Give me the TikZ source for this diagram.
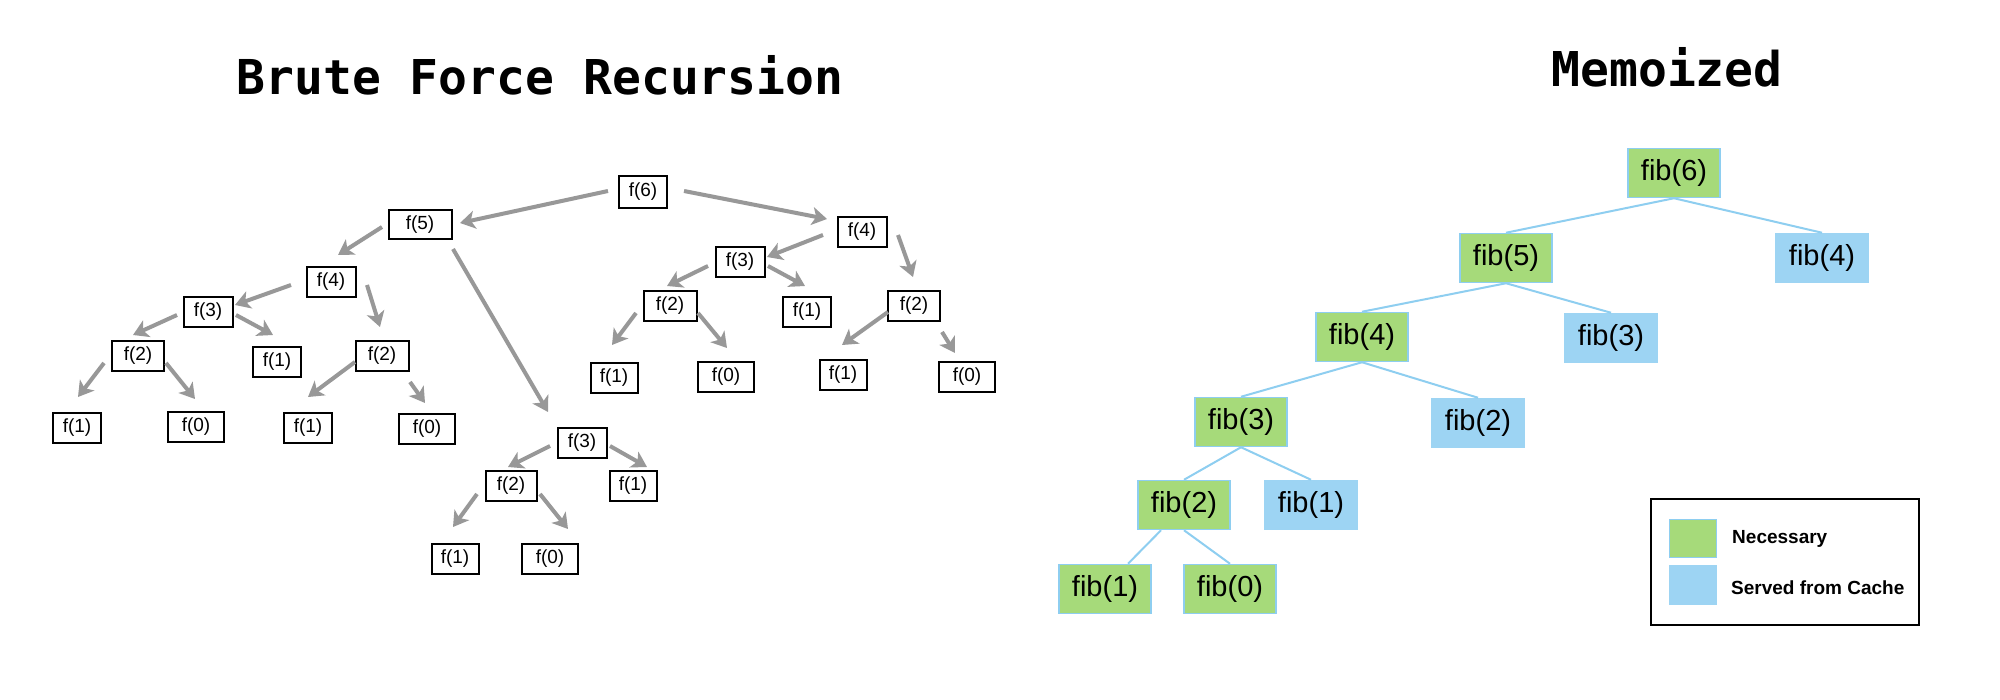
\documentclass[tikz,border=0pt]{standalone}
\usepackage{fontspec}
\setmainfont{Liberation Sans}
\newfontfamily\titlemono{DejaVu Sans Mono}
\usetikzlibrary{arrows.meta}
\definecolor{arrgray}{RGB}{152,152,152}
\definecolor{fibgreen}{RGB}{166,218,122}
\definecolor{fibblue}{RGB}{157,212,243}
\definecolor{edgeblue}{RGB}{142,206,240}
\begin{document}
\begin{tikzpicture}[x=1pt,y=-1pt,
  fb/.style={draw=black, line width=2pt, fill=white, minimum height=30pt, inner sep=0pt,
    font=\fontsize{19}{19}\selectfont},
  arr/.style={draw=arrgray, line width=4pt, -{Stealth[length=15pt,width=18pt,inset=4pt]}},
  gbox/.style={fill=fibgreen, draw=edgeblue, line width=1.5pt, minimum width=92pt, minimum height=49pt,
    inner sep=0pt, font=\fontsize{29}{29}\selectfont},
  cbox/.style={gbox, fill=fibblue, draw=fibblue},
  tline/.style={draw=edgeblue, line width=2pt},
  titletext/.style={font=\titlemono\bfseries\fontsize{48}{48}\selectfont, anchor=base, inner sep=0pt},
  legtext/.style={font=\bfseries\fontsize{19}{19}\selectfont, anchor=base west, inner sep=0pt}
]
\useasboundingbox (0,0) rectangle (2000,700);
\fill[white] (0,0) rectangle (2000,700);

% titles
\node[titletext] (t1) at (540,95) {Brute Force Recursion};
\node[titletext] (t2) at (1667,87) {Memoized};

% ---------- brute force tree ----------
\node[fb, minimum width=48pt, minimum height=32pt] (f6) at (643,192) {f(6)};
\node[fb, minimum width=63pt, minimum height=29pt] (f5) at (420,225) {f(5)};
\node[fb, minimum width=49pt] (f4r) at (862,232) {f(4)};
\node[fb, minimum width=49pt] (f4l) at (331,282) {f(4)};
\node[fb, minimum width=49pt] (f3l) at (208,312) {f(3)};
\node[fb, minimum width=49pt] (f3m) at (740,262) {f(3)};
\node[fb, minimum width=49pt] (f3b) at (582,443) {f(3)};
\node[fb, minimum width=52pt] (f2l) at (138,356) {f(2)};
\node[fb, minimum width=53pt] (f2a) at (382,356) {f(2)};
\node[fb, minimum width=53pt] (f2m) at (670,306) {f(2)};
\node[fb, minimum width=52pt] (f2r) at (914,306) {f(2)};
\node[fb, minimum width=51pt] (f2b) at (511,486) {f(2)};
\node[fb, minimum width=48pt] (f1a) at (277,362) {f(1)};
\node[fb, minimum width=48pt] (f1m) at (807,312) {f(1)};
\node[fb, minimum width=47pt] (f1b) at (633,486) {f(1)};
\node[fb, minimum width=48pt] (l1) at (77,428) {f(1)};
\node[fb, minimum width=56pt] (l2) at (196,427) {f(0)};
\node[fb, minimum width=48pt] (l3) at (308,428) {f(1)};
\node[fb, minimum width=56pt] (l4) at (427,429) {f(0)};
\node[fb, minimum width=47pt] (l5) at (614,378) {f(1)};
\node[fb, minimum width=56pt] (l6) at (726,377) {f(0)};
\node[fb, minimum width=47pt] (l7) at (843,375) {f(1)};
\node[fb, minimum width=56pt] (l8) at (967,377) {f(0)};
\node[fb, minimum width=47pt] (l9) at (455,559) {f(1)};
\node[fb, minimum width=56pt] (l10) at (550,559) {f(0)};

\draw[arr] ([shift={(-35,-1)}]f6.center) -- ([shift={(40,-2)}]f5.center);
\draw[arr] ([shift={(41,-1)}]f6.center) -- ([shift={(-35,-13)}]f4r.center);
\draw[arr] ([shift={(-38,2)}]f5.center) -- ([shift={(7,-27)}]f4l.center);
\draw[arr] ([shift={(33,24)}]f5.center) -- ([shift={(-34,-31)}]f3b.center);
\draw[arr] ([shift={(-40,3)}]f4l.center) -- ([shift={(27,-7)}]f3l.center);
\draw[arr] ([shift={(36,3)}]f4l.center) -- ([shift={(-2,-29)}]f2a.center);
\draw[arr] ([shift={(-31,3)}]f3l.center) -- ([shift={(-5,-21)}]f2l.center);
\draw[arr] ([shift={(28,3)}]f3l.center) -- ([shift={(-4,-27)}]f1a.center);
\draw[arr] ([shift={(-34,7)}]f2l.center) -- ([shift={(1,-31)}]l1.center);
\draw[arr] ([shift={(28,7)}]f2l.center) -- ([shift={(-1,-28)}]l2.center);
\draw[arr] ([shift={(-27,6)}]f2a.center) -- ([shift={(0,-31)}]l3.center);
\draw[arr] ([shift={(28,26)}]f2a.center) -- ([shift={(-2,-26)}]l4.center);
\draw[arr] ([shift={(-39,3)}]f4r.center) -- ([shift={(27,-5)}]f3m.center);
\draw[arr] ([shift={(36,3)}]f4r.center) -- ([shift={(-1,-29)}]f2r.center);
\draw[arr] ([shift={(-32,4)}]f3m.center) -- ([shift={(-3,-20)}]f2m.center);
\draw[arr] ([shift={(28,4)}]f3m.center) -- ([shift={(-2,-26)}]f1m.center);
\draw[arr] ([shift={(-34,7)}]f2m.center) -- ([shift={(-2,-33)}]l5.center);
\draw[arr] ([shift={(28,7)}]f2m.center) -- ([shift={(1,-29)}]l6.center);
\draw[arr] ([shift={(-26,6)}]f2r.center) -- ([shift={(-1,-30)}]l7.center);
\draw[arr] ([shift={(28,26)}]f2r.center) -- ([shift={(-12,-24)}]l8.center);
\draw[arr] ([shift={(-32,3)}]f3b.center) -- ([shift={(-3,-19)}]f2b.center);
\draw[arr] ([shift={(28,3)}]f3b.center) -- ([shift={(14,-19)}]f1b.center);
\draw[arr] ([shift={(-34,8)}]f2b.center) -- ([shift={(-2,-32)}]l9.center);
\draw[arr] ([shift={(29,8)}]f2b.center) -- ([shift={(18,-30)}]l10.center);

% ---------- memoized tree ----------
\node[gbox] (g6) at (1674,173) {fib(6)};
\node[gbox] (g5) at (1506,258) {fib(5)};
\node[cbox] (c4) at (1822,258) {fib(4)};
\node[gbox] (g4) at (1362,337) {fib(4)};
\node[cbox] (c3) at (1611,338) {fib(3)};
\node[gbox] (g3) at (1241,422) {fib(3)};
\node[cbox] (c2) at (1478,423) {fib(2)};
\node[gbox] (g2) at (1184,505) {fib(2)};
\node[cbox] (c1) at (1311,505) {fib(1)};
\node[gbox] (g1) at (1105,589) {fib(1)};
\node[gbox] (g0) at (1230,589) {fib(0)};

\draw[tline] (g6.south) -- (g5.north);
\draw[tline] (g6.south) -- (c4.north);
\draw[tline] (g5.south) -- (g4.north);
\draw[tline] (g5.south) -- (c3.north);
\draw[tline] (g4.south) -- (g3.north);
\draw[tline] (g4.south) -- (c2.north);
\draw[tline] (g3.south) -- (g2.north);
\draw[tline] (g3.south) -- (c1.north);
\draw[tline] ([xshift=-23pt]g2.south) -- ([xshift=23pt]g1.north);
\draw[tline] (g2.south) -- (g0.north);

% legend
\node[draw=black, line width=2pt, minimum width=268pt, minimum height=126pt, inner sep=0pt] (leg) at (1785,562) {};
\node[fill=fibgreen, draw=edgeblue, line width=1.5pt, minimum width=47pt, minimum height=38pt, inner sep=0pt] (sw1) at (1693,538.5) {};
\node[fill=fibblue, draw=fibblue, line width=1.5pt, minimum width=47pt, minimum height=39pt, inner sep=0pt] (sw2) at (1693,585) {};
\node[legtext] (lt1) at (1732,543) {Necessary};
\node[legtext] (lt2) at (1731,594) {Served from Cache};
\end{tikzpicture}
\end{document}
